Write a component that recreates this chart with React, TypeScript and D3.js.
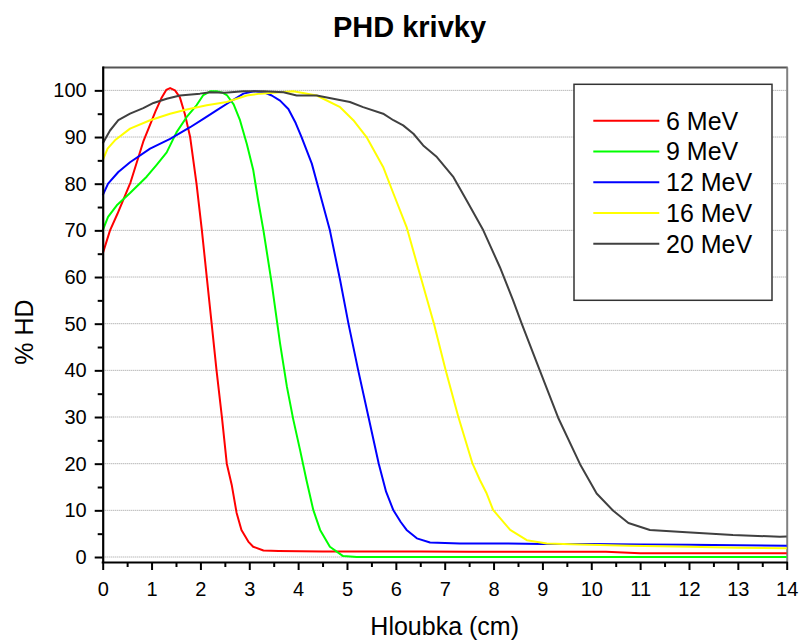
import { useEffect, useRef } from "react";
import * as d3 from "d3";

// depth (cm) and relative dose (% HD), one pair per energy
const depth6 = [0, 0.15, 0.3, 0.57, 0.83, 1.08, 1.2, 1.3, 1.38, 1.48, 1.58, 1.68, 1.79, 1.92, 2.03, 2.13, 2.23, 2.33, 2.44, 2.54, 2.64, 2.74, 2.84, 2.98, 3.08, 3.29, 3.6, 4.5, 5.5, 6.5, 7.5, 8.5, 10.3, 11, 12, 13, 14];
const dose6 = [65, 70, 73.5, 80.3, 89, 95.5, 98.3, 100.1, 100.5, 100, 98.5, 95, 90, 80, 70, 60, 50, 40, 30, 20, 15.5, 9.5, 5.8, 3.3, 2.2, 1.4, 1.3, 1.2, 1.2, 1.2, 1.1, 1.1, 1.1, 0.8, 0.8, 0.8, 0.8];

const depth9 = [0, 0.11, 0.3, 0.56, 0.9, 1.1, 1.31, 1.51, 1.72, 1.92, 2.06, 2.2, 2.33, 2.45, 2.54, 2.68, 2.81, 2.95, 3.08, 3.18, 3.29, 3.46, 3.63, 3.77, 3.9, 4.04, 4.17, 4.31, 4.45, 4.65, 4.92, 5.2, 6, 8, 10, 12, 14];
const dose9 = [70, 72.9, 75.5, 78, 81.5, 84, 86.7, 91, 94.3, 96.8, 99, 99.8, 99.8, 99.5, 99, 97, 93.6, 88.5, 83, 76.5, 70, 58.6, 45.8, 36.5, 29.5, 22.9, 16.5, 10.1, 5.8, 2.2, 0.2, 0, 0, 0, 0, 0, 0];

const depth12 = [0, 0.11, 0.32, 0.56, 0.97, 1.38, 1.79, 2.06, 2.33, 2.6, 2.88, 3.1, 3.3, 3.46, 3.63, 3.8, 3.95, 4.07, 4.28, 4.41, 4.65, 4.86, 5.03, 5.23, 5.44, 5.65, 5.8, 5.95, 6.1, 6.22, 6.43, 6.7, 7.31, 8.13, 9, 10, 11, 12, 13, 14];
const dose12 = [77.5, 80, 82.5, 84.6, 87.5, 89.6, 92.1, 93.9, 95.7, 97.5, 99.3, 99.8, 99.6, 98.9, 97.8, 96, 93, 90, 84.3, 79.3, 70, 59.3, 50, 40, 30, 20, 14, 10, 7.5, 5.8, 4, 3.1, 2.9, 2.9, 2.8, 2.8, 2.7, 2.6, 2.5, 2.4];

const depth16 = [0, 0.1, 0.25, 0.56, 0.97, 1.38, 1.72, 2.13, 2.54, 2.95, 3.22, 3.5, 3.9, 4.38, 4.86, 5.13, 5.4, 5.74, 5.95, 6.22, 6.49, 6.78, 7.02, 7.28, 7.57, 7.72, 7.86, 7.99, 8.34, 8.68, 9.09, 9.77, 10.79, 12, 13, 14];
const dose16 = [85, 87.5, 89.3, 91.8, 93.6, 95, 95.9, 96.8, 97.5, 98.9, 99.3, 99.5, 99.8, 98.9, 96.4, 93.6, 90, 83.6, 77.9, 70.7, 60.7, 50, 40, 30, 20, 16.5, 13.6, 10.1, 5.8, 3.6, 2.9, 2.7, 2.4, 2.2, 2.0, 1.9];

const depth20 = [0, 0.15, 0.32, 0.56, 0.83, 1.04, 1.31, 1.58, 1.99, 2.2, 2.5, 2.88, 3.3, 3.7, 3.97, 4.38, 4.72, 5.06, 5.33, 5.74, 5.95, 6.15, 6.36, 6.56, 6.84, 7.18, 7.45, 7.79, 8.13, 8.4, 8.58, 8.95, 9.32, 9.77, 10.11, 10.45, 10.76, 11.2, 11.95, 12.9, 13.86, 14];
const dose20 = [88.6, 91.4, 93.6, 95, 96.2, 97.3, 98.2, 98.9, 99.3, 99.6, 99.5, 99.8, 99.8, 99.6, 98.9, 98.9, 98.2, 97.5, 96.4, 95, 93.6, 92.5, 90.7, 88.2, 85.7, 81.4, 76.4, 70, 62.1, 55, 49.9, 39.9, 29.9, 19.9, 13.6, 9.9, 7.3, 5.8, 5.3, 4.7, 4.35, 4.4];

const seriesNames = ["6 MeV", "9 MeV", "12 MeV", "16 MeV", "20 MeV"];
const seriesColors = ["#ff0000", "#00ff00", "#0000ff", "#ffff00", "#404040"];
const seriesDepths = [depth6, depth9, depth12, depth16, depth20];
const seriesDoses = [dose6, dose9, dose12, dose16, dose20];

const yTicks = [0, 10, 20, 30, 40, 50, 60, 70, 80, 90, 100];
const yMinorTicks = [5, 15, 25, 35, 45, 55, 65, 75, 85, 95];
const xTicks = [0, 1, 2, 3, 4, 5, 6, 7, 8, 9, 10, 11, 12, 13, 14];
const xMinorTicks = [0.5, 1.5, 2.5, 3.5, 4.5, 5.5, 6.5, 7.5, 8.5, 9.5, 10.5, 11.5, 12.5, 13.5];

const FONT = "'Liberation Sans', Arial, sans-serif";

function PhdChart() {
    const svgRef = useRef<SVGSVGElement>(null);

    useEffect(() => {
        const Width = 802;
        const Height = 642;
        const left = 102.7;
        const right = 786.7;
        const top = 67.5;
        const bottom = 562;

        const svg = d3.select(svgRef.current).attr("width", Width).attr("height", Height);
        svg.selectAll("*").remove();

        const xScale = d3.scaleLinear().domain([0, 14]).range([left, right]);
        const yScale = d3.scaleLinear().domain([-1.07, 104.9]).range([bottom, top]);

        // grid
        svg.append("g")
            .selectAll("line")
            .data(yTicks)
            .join("line")
            .attr("x1", left)
            .attr("x2", right)
            .attr("y1", (d) => yScale(d))
            .attr("y2", (d) => yScale(d))
            .attr("stroke", "#9a9a9a")
            .attr("stroke-width", 1)
            .attr("stroke-dasharray", "1,1");

        // frame top + right (grey)
        svg.append("line")
            .attr("x1", left).attr("x2", right + 1)
            .attr("y1", top).attr("y2", top)
            .attr("stroke", "#555").attr("stroke-width", 2);
        svg.append("line")
            .attr("x1", right + 0.5).attr("x2", right + 0.5)
            .attr("y1", top).attr("y2", bottom)
            .attr("stroke", "#808080").attr("stroke-width", 2);

        // curves
        const myLine = d3.line<[number, number]>()
            .x((p) => xScale(p[0]))
            .y((p) => yScale(p[1]));

        const curves = seriesDepths.map((ds, i) => ds.map((d, j) => [d, seriesDoses[i][j]] as [number, number]));

        svg.append("g")
            .selectAll("path")
            .data(curves)
            .join("path")
            .attr("d", (c) => myLine(c))
            .attr("fill", "none")
            .attr("stroke", (_c, i) => seriesColors[i])
            .attr("stroke-width", 2)
            .attr("stroke-linejoin", "round");

        // axes
        const yAxis = svg.append("g")
            .attr("transform", `translate(${left},0)`)
            .call(d3.axisLeft(yScale).tickValues(yTicks).tickSize(8).tickSizeOuter(0).tickPadding(8));
        const yMinor = svg.append("g")
            .attr("transform", `translate(${left},0)`)
            .call(d3.axisLeft(yScale).tickValues(yMinorTicks).tickSize(5).tickFormat(() => ""));
        yMinor.select(".domain").remove();

        const xAxis = svg.append("g")
            .attr("transform", `translate(0,${bottom})`)
            .call(d3.axisBottom(xScale).tickValues(xTicks).tickSize(8).tickSizeOuter(0).tickPadding(11.5));
        const xMinor = svg.append("g")
            .attr("transform", `translate(0,${bottom})`)
            .call(d3.axisBottom(xScale).tickValues(xMinorTicks).tickSize(5).tickFormat(() => ""));
        xMinor.select(".domain").remove();

        [yAxis, yMinor, xAxis, xMinor].forEach((g) => {
            g.selectAll("line").attr("stroke", "#000").attr("stroke-width", 2);
            g.selectAll("text")
                .attr("fill", "#000")
                .style("font-family", FONT)
                .style("font-size", "20px");
        });
        yAxis.select(".domain").attr("stroke", "#000").attr("stroke-width", 2.2);
        xAxis.select(".domain").attr("stroke", "#000").attr("stroke-width", 2.2);
        xAxis.select(".domain").attr("d", `M${left - 1},0.5H${right + 1}`);
        yAxis.select(".domain").attr("d", `M0.5,${bottom + 1}V${top - 1}`);

        // legend
        const legend = svg.append("g");
        legend.append("rect")
            .attr("x", 574).attr("y", 84.3)
            .attr("width", 198).attr("height", 216)
            .attr("fill", "#fff")
            .attr("stroke", "#333")
            .attr("stroke-width", 1.5);
        seriesNames.forEach((name, i) => {
            const ry = 120.7 + i * 30.75;
            legend.append("line")
                .attr("x1", 593.3).attr("x2", 659.3)
                .attr("y1", ry).attr("y2", ry)
                .attr("stroke", seriesColors[i])
                .attr("stroke-width", 2);
            legend.append("text")
                .attr("x", 666)
                .attr("y", ry + 8.8)
                .style("font-family", FONT)
                .style("font-size", "25px")
                .attr("fill", "#000")
                .text(name);
        });

        // labels
        svg.append("text")
            .attr("x", 409.5)
            .attr("y", 37)
            .attr("text-anchor", "middle")
            .style("font-family", FONT)
            .style("font-size", "29px")
            .style("font-weight", "bold")
            .text("PHD krivky");

        svg.append("text")
            .attr("x", (left + right) / 2)
            .attr("y", 635)
            .attr("text-anchor", "middle")
            .style("font-family", FONT)
            .style("font-size", "25px")
            .text("Hloubka (cm)");

        svg.append("text")
            .attr("transform", "translate(33,332) rotate(-90)")
            .attr("text-anchor", "middle")
            .style("font-family", FONT)
            .style("font-size", "25px")
            .text("% HD");
    }, []);

    return <svg ref={svgRef} style={{ position: "absolute", left: 0, top: 0, background: "#fff" }}></svg>;
}

export default function App() {
    return <PhdChart />;
}
